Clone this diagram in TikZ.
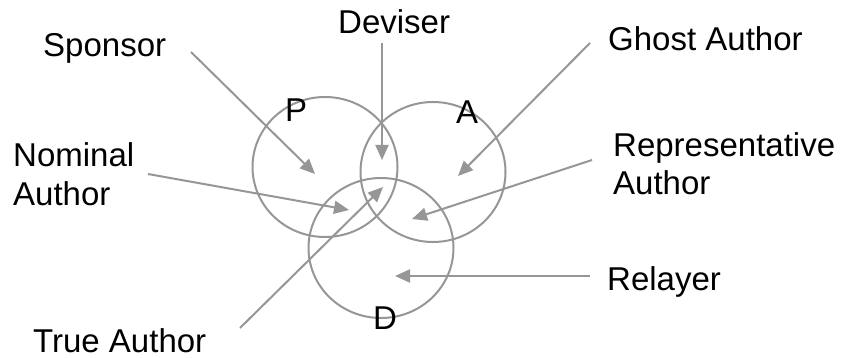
\documentclass[tikz,border=0pt]{standalone}
\usepackage{fontspec}
\setmainfont{Liberation Sans}
\usetikzlibrary{arrows.meta,shapes.geometric}
\definecolor{linegray}{RGB}{150,150,150}
\tikzset{
  lbl/.style={inner sep=0pt, anchor=base west, font=\fontsize{33}{40}\selectfont, text=black},
  ring/.style={draw=linegray, line width=2pt, ellipse, minimum width=145pt, minimum height=140pt, inner sep=0pt},
  pointer/.style={draw=linegray, line width=2pt, -{Triangle[length=15pt,width=13pt]}}
}
\begin{document}
\begin{tikzpicture}[x=1pt,y=-1pt]
\useasboundingbox (0,0) rectangle (843,358);
% circles
\node[ring] (P) at (325,167) {};
\node[ring] (A) at (433,172) {};
\node[ring] (D) at (381,248) {};
% circle letters
\node[lbl] (lP) at (285,122) {P};
\node[lbl] (lA) at (456,124) {A};
\node[lbl] (lD) at (373,329) {D};
% outer labels
\node[lbl] (sponsor) at (43,57) {Sponsor};
\node[lbl] (deviser) at (338,34) {Deviser};
\node[lbl] (ghost) at (608,51) {Ghost Author};
\node[lbl] (nominal) at (13,167) {Nominal};
\node[lbl] (nominal2) at (13,205) {Author};
\node[lbl] (repr) at (613,157) {Representative};
\node[lbl] (repr2) at (613,195) {Author};
\node[lbl] (relayer) at (607,290) {Relayer};
\node[lbl] (true) at (33,352) {True Author};
% connector ends
\coordinate (sS) at (191,52);  \coordinate (tS) at (315,174);
\coordinate (sDv) at (382,43); \coordinate (tDv) at (382,160);
\coordinate (sG) at (590,43);  \coordinate (tG) at (458,176);
\coordinate (sN) at (148,174); \coordinate (tN) at (349,210);
\coordinate (sR) at (592,160); \coordinate (tR) at (412,219);
\coordinate (sRl) at (590,276); \coordinate (tRl) at (395,276);
\coordinate (sT) at (240,328); \coordinate (tT) at (383,187);
% connectors
\draw[pointer] (sS) -- (tS);
\draw[pointer] (sDv) -- (tDv);
\draw[pointer] (sG) -- (tG);
\draw[pointer] (sN) -- (tN);
\draw[pointer] (sR) -- (tR);
\draw[pointer] (sRl) -- (tRl);
\draw[pointer] (sT) -- (tT);
\end{tikzpicture}
\end{document}
